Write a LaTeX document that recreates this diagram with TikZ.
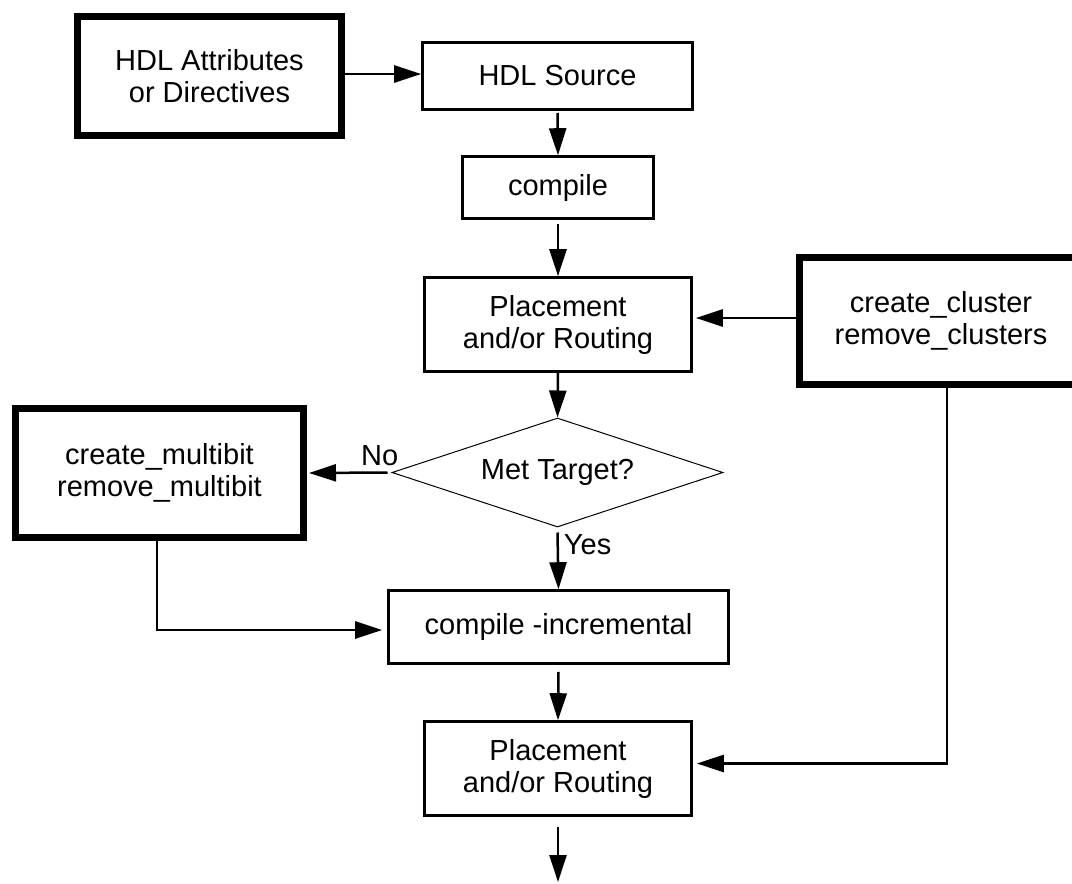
\documentclass[tikz,border=0pt]{standalone}
\usepackage{fontspec}
\setmainfont{Liberation Sans}
\usetikzlibrary{arrows.meta,shapes.geometric,calc}
\tikzset{
  box/.style={draw, rectangle, line width=2.6pt, inner sep=0pt, align=center,
    font=\fontsize{29}{32}\selectfont},
  thickbox/.style={box, line width=7pt},
  decision/.style={draw, diamond, line width=1pt, inner sep=0pt, shape aspect=3,
    font=\fontsize{29}{32}\selectfont},
  arr/.style={line width=2.5pt, -{Triangle[length=27pt,width=17pt]}},
  lbl/.style={font=\fontsize{29}{32}\selectfont, inner sep=0pt}
}
\begin{document}
\begin{tikzpicture}[x=1pt,y=-1pt]
\useasboundingbox (0,0) rectangle (1072,884);
\node[thickbox, minimum width=264pt, minimum height=119pt] (attr) at (209.5,76) {HDL Attributes\\or Directives};
\node[box, minimum width=270pt, minimum height=67pt] (src) at (557.5,76) {HDL Source};
\node[box, minimum width=191pt, minimum height=62pt] (comp) at (558,187.5) {compile};
\node[box, minimum width=267pt, minimum height=94pt] (place1) at (558,324.5) {Placement\\and/or Routing};
\node[thickbox, minimum width=283pt, minimum height=127pt] (cluster) at (941,321) {create\_cluster\\remove\_clusters};
\node[decision, minimum width=331pt, minimum height=109pt] (met) at (557.5,472.5) {Met Target?};
\node[thickbox, minimum width=288pt, minimum height=129pt] (multi) at (159.5,473) {create\_multibit\\remove\_multibit};
\node[box, minimum width=340pt, minimum height=73pt] (cinc) at (558.5,627) {compile -incremental};
\node[box, minimum width=267pt, minimum height=94pt] (place2) at (558,768.5) {Placement\\and/or Routing};
\coordinate (out) at (558,882);

\draw[arr] ([yshift=2pt]attr.east) -- ([yshift=2pt]src.west);
\draw[arr] ([yshift=-2pt]src.south) -- (comp.north);
\draw[arr] ([yshift=-4pt]comp.south) -- (place1.north);
\draw[arr] ([yshift=3pt]cluster.west) -- ($(place1.east |- cluster.west)+(3,-3)$);
\draw[arr] (place1.south) -- (met.north);
\draw[arr] ([xshift=-4pt]met.west) -- ([xshift=2pt]multi.east)
  node[lbl, pos=0.1, above=6pt] (no) {No};
\draw[arr] ([yshift=-5pt]met.south) -- (cinc.north)
  node[lbl, pos=0.22, right=5pt] (yes) {Yes};
\draw[arr] ([xshift=-2.5pt]multi.south) |- ([xshift=-5pt,yshift=-3pt]cinc.west);
\draw[arr] ([yshift=-7pt]cinc.south) -- (place2.north);
\draw[arr] ([xshift=6pt]cluster.south) |- ([xshift=4pt,yshift=5pt]place2.east);
\draw[arr] ([yshift=-10pt]place2.south) -- (out);
\end{tikzpicture}
\end{document}
